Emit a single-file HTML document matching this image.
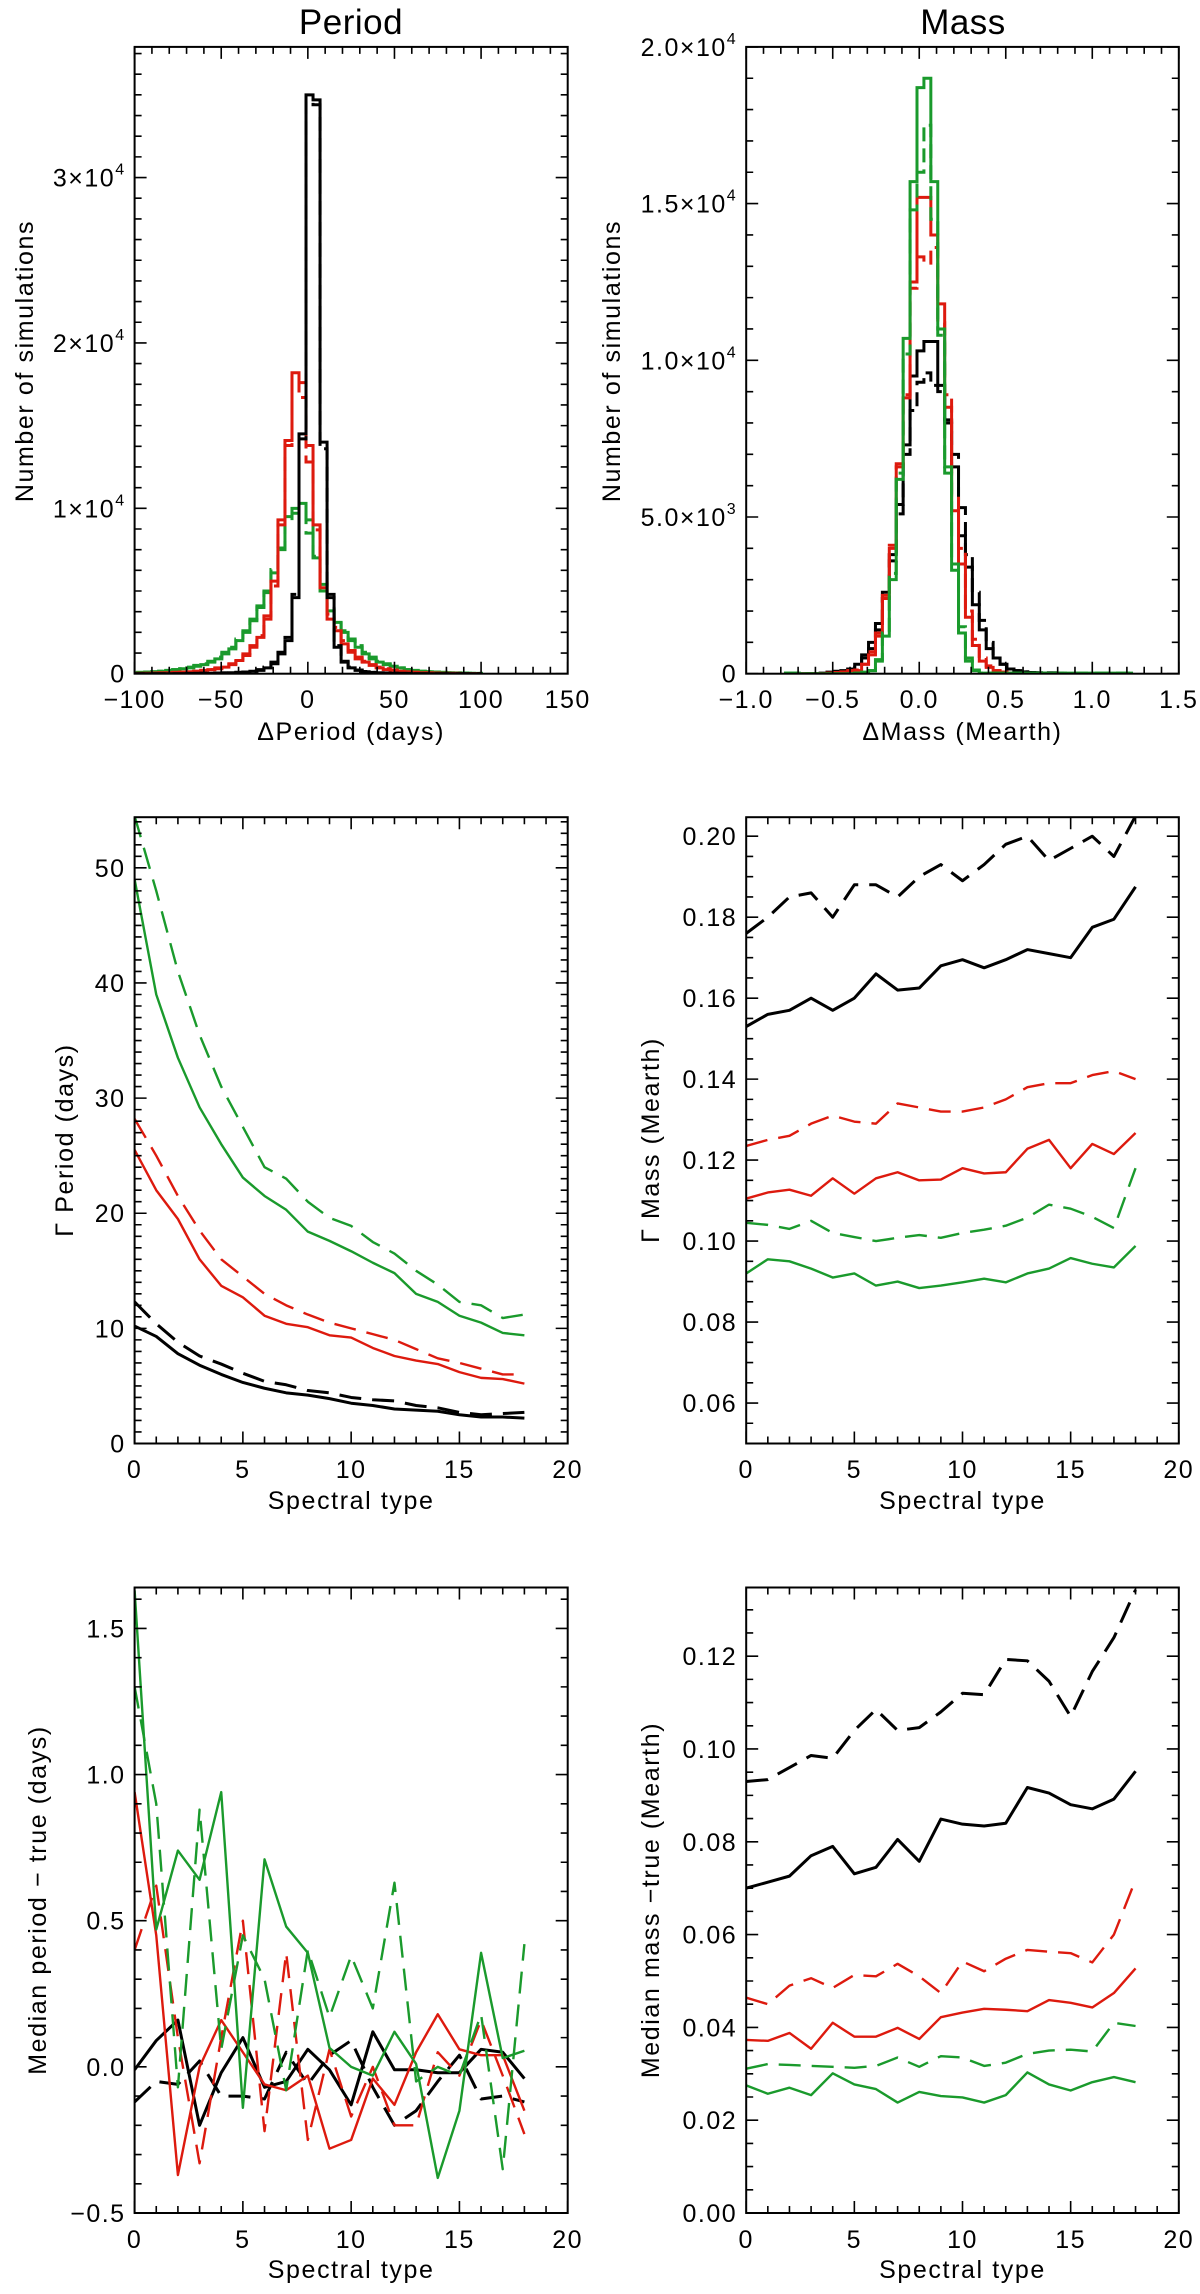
<!DOCTYPE html>
<html><head><meta charset="utf-8"><title>Period and Mass simulation results</title>
<style>
html,body{margin:0;padding:0;background:#fff;}
svg{display:block;font-family:"Liberation Sans",Arial,sans-serif;}
</style></head>
<body>
<svg id="fig" width="1200" height="2294" viewBox="0 0 1200 2294" xmlns="http://www.w3.org/2000/svg"></svg>
<script>
// ---------- DATA ----------
const periodBinStart = -102.3;
const periodBinWidth = 4.05;
const periodBlack = [0,0,0,0,0,0,0,0,0.02,0.02,0.03,0.03,0.04,0.05,0.06,0.08,0.1,0.15,0.2,0.35,0.6,1.2,2.0,4.6,14.5,35.0,34.7,14.0,4.6,1.6,0.7,0.35,0.2,0.12,0.08,0.05,0.04,0.03,0.02,0.02,0,0,0,0,0,0,0,0,0,0];
const periodBlackDash = [0,0,0,0,0,0,0,0,0.02,0.02,0.03,0.03,0.04,0.05,0.06,0.08,0.1,0.15,0.25,0.4,0.7,1.3,2.2,4.8,14.2,34.6,34.4,13.6,4.8,1.7,0.75,0.4,0.22,0.13,0.08,0.05,0.04,0.03,0.02,0.02,0,0,0,0,0,0,0,0,0,0];
const periodRed = [0,0.02,0.03,0.04,0.05,0.06,0.08,0.1,0.12,0.15,0.2,0.25,0.3,0.4,0.55,0.8,1.1,1.6,2.2,3.3,5.6,9.3,14.1,18.2,17.6,13.8,9.0,5.2,3.3,2.6,1.8,1.3,0.9,0.7,0.5,0.35,0.25,0.2,0.15,0.1,0.08,0.06,0.05,0.04,0.03,0.02,0.02,0,0,0];
const periodRedDash = [0,0.02,0.03,0.04,0.05,0.06,0.08,0.1,0.12,0.15,0.2,0.25,0.35,0.45,0.6,0.9,1.2,1.7,2.3,3.5,5.3,9.0,13.8,17.8,16.7,12.8,8.7,5.5,3.6,2.8,2.0,1.4,1.0,0.75,0.55,0.4,0.3,0.22,0.16,0.12,0.09,0.06,0.05,0.04,0.03,0.02,0.02,0,0,0];
const periodGreen = [0.05,0.08,0.1,0.12,0.15,0.2,0.25,0.3,0.35,0.45,0.55,0.7,0.9,1.2,1.5,2.0,2.5,3.2,4.0,4.9,6.1,7.6,9.5,10.0,10.3,9.3,7.0,5.0,3.8,3.1,2.5,2.0,1.6,1.2,0.9,0.7,0.55,0.45,0.35,0.25,0.2,0.15,0.12,0.1,0.08,0.06,0.05,0.04,0.03,0.02];
const periodGreenDash = [0.05,0.08,0.1,0.12,0.15,0.2,0.25,0.3,0.4,0.5,0.6,0.75,1.0,1.3,1.6,2.1,2.6,3.3,4.1,5.0,6.3,7.5,9.2,9.7,9.8,8.5,7.1,5.4,4.0,3.2,2.6,2.1,1.7,1.3,1.0,0.75,0.6,0.45,0.35,0.25,0.2,0.15,0.12,0.1,0.08,0.06,0.05,0.04,0.03,0.02];

const massBinStart = -0.773;
const massBinWidth = 0.04;
const massBlack = [0,0,0,0,0,0.02,0.05,0.08,0.1,0.15,0.3,0.6,1.0,1.6,2.6,3.8,5.4,7.3,9.5,10.3,10.6,10.6,9.2,8.1,6.6,4.4,3.4,2.2,1.4,0.8,0.5,0.3,0.15,0.1,0.06,0.04,0.03,0.02,0.02,0.02,0,0,0,0,0,0,0,0,0,0];
const massBlackDash = [0,0,0,0,0,0.02,0.04,0.06,0.1,0.15,0.25,0.5,0.8,1.4,2.4,3.6,5.1,7.0,8.4,9.3,9.6,9.2,9.0,8.0,7.0,5.3,3.8,2.6,1.7,1.0,0.5,0.3,0.15,0.1,0.06,0.04,0.03,0.02,0.03,0.02,0,0,0,0,0,0,0,0,0,0];
const massRed = [0,0,0,0,0,0,0.02,0.04,0.06,0.1,0.1,0.3,0.6,1.2,2.4,4.0,6.7,8.8,12.5,15.2,15.2,14.0,11.8,8.5,5.2,3.5,1.8,0.9,0.4,0.2,0.1,0.05,0.02,0,0,0,0,0,0,0,0,0,0,0,0,0,0,0,0,0];
const massRedDash = [0,0,0,0,0,0,0.02,0.04,0.06,0.1,0.12,0.3,0.7,1.3,2.5,4.1,6.6,8.9,12.3,13.3,13.1,13.6,11.2,8.9,5.6,4.0,2.0,1.1,0.5,0.25,0.1,0.05,0.02,0,0,0,0,0,0,0,0,0,0,0,0,0,0,0,0,0];
const massGreen = [0.02,0.02,0,0,0,0,0,0,0,0,0.02,0.05,0.1,0.4,1.2,3.0,6.2,10.7,15.7,18.7,19.0,15.7,11.0,6.4,3.3,1.3,0.4,0.1,0.02,0.02,0.02,0.02,0.02,0.02,0.02,0.02,0.02,0.02,0.02,0.02,0.02,0.02,0.02,0.02,0.02,0.02,0.02,0.02,0.02,0.02];
const massGreenDash = [0.02,0.02,0,0,0,0,0,0,0,0,0.02,0.05,0.1,0.45,1.3,3.2,6.4,10.2,14.8,16.0,17.5,14.5,10.8,6.6,3.5,1.5,0.5,0.12,0.02,0.02,0.02,0.02,0.02,0.02,0.02,0.02,0.02,0.02,0.02,0.02,0.02,0.02,0.02,0.02,0.02,0.02,0.02,0.02,0.02,0.02];

const spectralTypes = [0,1,2,3,4,5,6,7,8,9,10,11,12,13,14,15,16,17,18];

const gPerGreen = [49,39,33.5,29.2,26,23.1,21.5,20.3,18.4,17.6,16.7,15.7,14.8,13,12.3,11.1,10.5,9.6,9.4];
const gPerGreenDash = [54.5,48,41,35.5,31,27.5,24,23,21,19.6,18.9,17.5,16.5,15,13.8,12.3,12,10.9,11.2];
const gPerRed = [25.5,22,19.5,16,13.7,12.7,11.1,10.4,10.1,9.4,9.2,8.3,7.6,7.2,6.9,6.2,5.7,5.6,5.2];
const gPerRedDash = [28.2,25,21.5,18.5,16,14.5,13,12,11.2,10.5,10,9.5,9,8.2,7.4,7,6.5,6,6];
const gPerBlack = [10.2,9.3,7.8,6.8,6,5.3,4.8,4.4,4.2,3.9,3.5,3.3,3.0,2.9,2.8,2.5,2.3,2.3,2.2];
const gPerBlackDash = [12.3,10.4,8.8,7.6,6.9,6.1,5.4,5.1,4.6,4.4,4.0,3.8,3.7,3.3,3.1,2.7,2.5,2.6,2.7];

const gMassBlackDash = [0.176,0.180,0.185,0.186,0.180,0.188,0.188,0.185,0.190,0.193,0.189,0.193,0.198,0.200,0.194,0.197,0.200,0.195,0.205];
const gMassBlack = [0.153,0.156,0.157,0.160,0.157,0.160,0.166,0.162,0.1625,0.168,0.1695,0.1675,0.1695,0.172,0.171,0.170,0.1775,0.1795,0.1875];
const gMassRedDash = [0.1235,0.125,0.126,0.129,0.131,0.1295,0.129,0.134,0.133,0.132,0.132,0.133,0.135,0.138,0.139,0.139,0.141,0.142,0.140];
const gMassRed = [0.1105,0.112,0.1127,0.1112,0.1155,0.1117,0.1155,0.117,0.115,0.1152,0.118,0.1167,0.117,0.1228,0.125,0.118,0.124,0.1215,0.1267];
const gMassGreenDash = [0.1045,0.104,0.103,0.105,0.102,0.101,0.100,0.1008,0.1015,0.1008,0.102,0.1028,0.1038,0.1058,0.109,0.108,0.106,0.1032,0.118];
const gMassGreen = [0.092,0.0955,0.095,0.0932,0.091,0.092,0.089,0.090,0.0884,0.089,0.0898,0.0907,0.0898,0.092,0.0932,0.0958,0.0944,0.0935,0.0988];

const medPerGreen = [1.63,0.47,0.74,0.64,0.94,-0.14,0.71,0.48,0.39,0.065,0,-0.03,0.12,0.01,-0.38,-0.15,0.39,0.03,0.055];
const medPerGreenDash = [1.3,0.9,-0.07,0.88,0.06,0.45,0.3,-0.08,0.4,0.17,0.38,0.2,0.63,-0.05,0.0,-0.03,0.18,-0.35,0.42];
const medPerRed = [0.94,0.45,-0.37,0.0,0.16,0.05,-0.06,-0.08,-0.03,-0.28,-0.25,-0.04,-0.13,0.05,0.18,0.06,0.04,0.04,-0.15];
const medPerRedDash = [0.4,0.62,0.1,-0.33,0.1,0.5,-0.22,0.39,-0.25,0.06,-0.17,0.0,-0.2,-0.2,0.05,-0.03,0.16,-0.03,-0.23];
const medPerBlack = [-0.01,0.09,0.16,-0.2,-0.02,0.1,-0.07,-0.05,0.06,-0.01,-0.13,0.12,-0.01,-0.01,-0.02,-0.02,0.06,0.05,-0.04];
const medPerBlackDash = [-0.12,-0.05,-0.06,0.02,-0.1,-0.1,-0.11,0.05,-0.06,0.04,0.09,-0.07,-0.2,-0.15,-0.05,0.04,-0.11,-0.1,-0.12];

const medMassBlackDash = [0.093,0.0934,0.096,0.0986,0.098,0.104,0.1085,0.104,0.1046,0.108,0.112,0.1117,0.1193,0.119,0.1146,0.107,0.1167,0.124,0.1343];
const medMassBlack = [0.070,0.0713,0.0726,0.077,0.079,0.0731,0.0745,0.0805,0.0758,0.0849,0.0838,0.0834,0.084,0.0917,0.0905,0.088,0.0871,0.0892,0.0952];
const medMassRedDash = [0.0464,0.045,0.049,0.0506,0.0485,0.0513,0.051,0.0537,0.051,0.0474,0.0542,0.0521,0.0548,0.0567,0.0563,0.056,0.054,0.060,0.0718];
const medMassRed = [0.0373,0.0371,0.0388,0.0354,0.041,0.038,0.038,0.0399,0.0375,0.0422,0.0432,0.044,0.0438,0.0435,0.0459,0.0453,0.0443,0.0474,0.0527];
const medMassGreenDash = [0.0311,0.0321,0.0319,0.0317,0.0315,0.0313,0.0317,0.0335,0.0315,0.0338,0.0335,0.0317,0.0324,0.0343,0.035,0.0352,0.0348,0.041,0.0403];
const medMassGreen = [0.0275,0.0257,0.027,0.0254,0.0301,0.0277,0.0267,0.0238,0.0261,0.0252,0.0249,0.0238,0.0254,0.0303,0.0277,0.0264,0.0282,0.0293,0.0282];

const periodYTickVals = [0,10,20,30];
const periodYTickLabels = ["0","1×10<tspan dy='-12' font-size='16'>4</tspan>","2×10<tspan dy='-12' font-size='16'>4</tspan>","3×10<tspan dy='-12' font-size='16'>4</tspan>"];
const periodXTickVals = [-100,-50,0,50,100,150];
const periodXTickLabels = ["−100","−50","0","50","100","150"];
const massYTickVals = [0,5,10,15,20];
const massYTickLabels = ["0","5.0×10<tspan dy='-12' font-size='16'>3</tspan>","1.0×10<tspan dy='-12' font-size='16'>4</tspan>","1.5×10<tspan dy='-12' font-size='16'>4</tspan>","2.0×10<tspan dy='-12' font-size='16'>4</tspan>"];
const massXTickVals = [-1,-0.5,0,0.5,1,1.5];
const massXTickLabels = ["−1.0","−0.5","0.0","0.5","1.0","1.5"];
const specXTickVals = [0,5,10,15,20];
const specXTickLabels = ["0","5","10","15","20"];
const gPerYTickVals = [0,10,20,30,40,50];
const gPerYTickLabels = ["0","10","20","30","40","50"];
const gMassYTickVals = [0.06,0.08,0.10,0.12,0.14,0.16,0.18,0.20];
const gMassYTickLabels = ["0.06","0.08","0.10","0.12","0.14","0.16","0.18","0.20"];
const medPerYTickVals = [-0.5,0,0.5,1.0,1.5];
const medPerYTickLabels = ["−0.5","0.0","0.5","1.0","1.5"];
const medMassYTickVals = [0,0.02,0.04,0.06,0.08,0.10,0.12];
const medMassYTickLabels = ["0.00","0.02","0.04","0.06","0.08","0.10","0.12"];

// ---------- RENDER ----------
const NS = "http://www.w3.org/2000/svg";
const svg = document.getElementById('fig');
const BLACK = "#000", RED = "#dd1a0e", GREEN = "#1a9a2c";
const DASH = "22,11";

function mk(tag, parent){ const e = document.createElementNS(NS, tag); parent.appendChild(e); return e; }

function makePanel(p){
  const g = mk('g', svg);
  
  
  p.sx = v => p.L + (v - p.xmin) / (p.xmax - p.xmin) * (p.R - p.L);
  p.sy = v => p.B - (v - p.ymin) / (p.ymax - p.ymin) * (p.B - p.T);
  const cp = mk('clipPath', g);
  cp.setAttribute('id', 'clip-' + p.name);
  const cr = mk('rect', cp);
  cr.setAttribute('x', p.L); cr.setAttribute('y', p.T);
  cr.setAttribute('width', p.R - p.L); cr.setAttribute('height', p.B - p.T);
  p.g = g;
  p.data = mk('g', g);
  
  
  p.data.setAttribute('clip-path', 'url(#clip-' + p.name + ')');
  return p;
}

function drawAxes(p){
  const g = p.g;
  const frame = mk('rect', g);
  
  
  frame.setAttribute('x', p.L); frame.setAttribute('y', p.T);
  frame.setAttribute('width', p.R - p.L); frame.setAttribute('height', p.B - p.T);
  frame.setAttribute('fill', 'none'); frame.setAttribute('stroke', '#000'); frame.setAttribute('stroke-width', '2');
  let d = "";
  const eps = 1e-9;
  for (let k = 0; ; k++){
    const v = p.xmin + k * p.xminor;
    if (v > p.xmax + eps) break;
    const r = (v - p.xmin) / p.xmajor;
    const isMaj = Math.abs(r - Math.round(r)) < 1e-6;
    const len = isMaj ? 12 : 7;
    const x = p.sx(v);
    d += `M${x} ${p.B}V${p.B - len}M${x} ${p.T}V${p.T + len}`;
  }
  for (let k = 0; ; k++){
    const v = p.ymin0 + k * p.yminor;
    if (v > p.ymax + eps) break;
    if (v < p.ymin - eps) continue;
    const r = (v - p.ymin0) / p.ymajor;
    const isMaj = Math.abs(r - Math.round(r)) < 1e-6;
    const len = isMaj ? 12 : 7;
    const y = p.sy(v);
    d += `M${p.L} ${y}H${p.L + len}M${p.R} ${y}H${p.R - len}`;
  }
  const ticks = mk('path', g);
  
  
  ticks.setAttribute('d', d); ticks.setAttribute('stroke', '#000'); ticks.setAttribute('stroke-width', '1.6'); ticks.setAttribute('fill', 'none');

  p.xTickVals.forEach((v, i) => {
    const t = mk('text', g);
    
    
    t.setAttribute('x', p.sx(v)); t.setAttribute('y', p.xLabelY);
    t.setAttribute('text-anchor', 'middle'); t.setAttribute('font-size', '25'); t.setAttribute('letter-spacing', '1.5');
    t.textContent = p.xTickLabels[i];
  });
  p.yTickVals.forEach((v, i) => {
    const t = mk('text', g);
    
    
    t.setAttribute('x', p.L - 9); t.setAttribute('y', p.sy(v) + 9);
    t.setAttribute('text-anchor', 'end'); t.setAttribute('font-size', '25'); t.setAttribute('letter-spacing', '1.5');
    t.innerHTML = p.yTickLabels[i];
  });
  const xt = mk('text', g);
  
  
  xt.setAttribute('x', (p.L + p.R) / 2); xt.setAttribute('y', p.xTitleY);
  xt.setAttribute('text-anchor', 'middle'); xt.setAttribute('font-size', '25'); xt.setAttribute('letter-spacing', '1.6');
  xt.textContent = p.xTitle;
  const yt = mk('text', g);
  
  
  yt.setAttribute('x', 0); yt.setAttribute('y', 0);
  yt.setAttribute('transform', `translate(${p.yTitleX},${p.yTitleY}) rotate(-90)`);
  yt.setAttribute('text-anchor', 'middle'); yt.setAttribute('dominant-baseline', 'central'); yt.setAttribute('font-size', '25'); yt.setAttribute('letter-spacing', '1.6');
  yt.textContent = p.yTitle;
}

function drawHist(p, start, width, vals, color, dashed, name){
  let d = `M${p.sx(start)} ${p.sy(0)}`;
  for (let i = 0; i < vals.length; i++){
    const y = p.sy(vals[i]);
    d += `L${p.sx(start + i * width)} ${y}L${p.sx(start + (i + 1) * width)} ${y}`;
  }
  d += `L${p.sx(start + vals.length * width)} ${p.sy(0)}`;
  const path = mk('path', p.data);
  
  
  path.setAttribute('d', d); path.setAttribute('fill', 'none'); path.setAttribute('stroke', color);
  path.setAttribute('stroke-width', '3');
  if (dashed) path.setAttribute('stroke-dasharray', '14,7');
}

function drawLine(p, xs, ys, color, dashed, w, name){
  const d = ys.map((v, i) => (i ? 'L' : 'M') + p.sx(xs[i]) + ' ' + p.sy(v)).join('');
  const path = mk('path', p.data);
  
  
  path.setAttribute('d', d); path.setAttribute('fill', 'none'); path.setAttribute('stroke', color);
  path.setAttribute('stroke-width', w); path.setAttribute('stroke-linejoin', 'round');
  if (dashed) path.setAttribute('stroke-dasharray', DASH);
}

[["Period", 351], ["Mass", 963]].forEach(([s, x]) => {
  const t = mk('text', svg);
  
  
  t.setAttribute('x', x); t.setAttribute('y', 34);
  t.setAttribute('text-anchor', 'middle'); t.setAttribute('font-size', '35'); t.setAttribute('letter-spacing', '0.5');
  t.textContent = s;
});

const LL = 134.6, LR = 567.7, RL = 746.2, RR = 1178.8;
const T1 = 46.9, B1 = 673.7, T2 = 817.2, B2 = 1443.5, T3 = 1587.5, B3 = 2213;

const p1 = makePanel({name:'period-histogram', L:LL, R:LR, T:T1, B:B1, xmin:-100, xmax:150, ymin:0, ymin0:0, ymax:37.9,
  xmajor:50, xminor:10, ymajor:10, yminor:1.25, xTickVals:periodXTickVals, xTickLabels:periodXTickLabels,
  yTickVals:periodYTickVals, yTickLabels:periodYTickLabels, xLabelY:708, xTitleY:740, xTitle:'ΔPeriod (days)',
  yTitle:'Number of simulations', yTitleX:25, yTitleY:361});
drawHist(p1, periodBinStart, periodBinWidth, periodGreenDash, GREEN, true, 'hist-green-dashed');
drawHist(p1, periodBinStart, periodBinWidth, periodGreen, GREEN, false, 'hist-green');
drawHist(p1, periodBinStart, periodBinWidth, periodRedDash, RED, true, 'hist-red-dashed');
drawHist(p1, periodBinStart, periodBinWidth, periodRed, RED, false, 'hist-red');
drawHist(p1, periodBinStart, periodBinWidth, periodBlackDash, BLACK, true, 'hist-black-dashed');
drawHist(p1, periodBinStart, periodBinWidth, periodBlack, BLACK, false, 'hist-black');
drawAxes(p1);

const p2 = makePanel({name:'mass-histogram', L:RL, R:RR, T:T1, B:B1, xmin:-1, xmax:1.5, ymin:0, ymin0:0, ymax:20,
  xmajor:0.5, xminor:0.1, ymajor:5, yminor:1, xTickVals:massXTickVals, xTickLabels:massXTickLabels,
  yTickVals:massYTickVals, yTickLabels:massYTickLabels, xLabelY:708, xTitleY:740, xTitle:'ΔMass (Mearth)',
  yTitle:'Number of simulations', yTitleX:612, yTitleY:361});
drawHist(p2, massBinStart, massBinWidth, massBlackDash, BLACK, true, 'hist-black-dashed');
drawHist(p2, massBinStart, massBinWidth, massBlack, BLACK, false, 'hist-black');
drawHist(p2, massBinStart, massBinWidth, massRedDash, RED, true, 'hist-red-dashed');
drawHist(p2, massBinStart, massBinWidth, massRed, RED, false, 'hist-red');
drawHist(p2, massBinStart, massBinWidth, massGreenDash, GREEN, true, 'hist-green-dashed');
drawHist(p2, massBinStart, massBinWidth, massGreen, GREEN, false, 'hist-green');
drawAxes(p2);

const p3 = makePanel({name:'gamma-period-chart', L:LL, R:LR, T:T2, B:B2, xmin:0, xmax:20, ymin:0, ymin0:0, ymax:54.4,
  xmajor:5, xminor:1, ymajor:10, yminor:1, xTickVals:specXTickVals, xTickLabels:specXTickLabels,
  yTickVals:gPerYTickVals, yTickLabels:gPerYTickLabels, xLabelY:1478, xTitleY:1509, xTitle:'Spectral type',
  yTitle:'Γ Period (days)', yTitleX:65, yTitleY:1140});
drawLine(p3, spectralTypes, gPerGreenDash, GREEN, true, 2.4, 'line-green-dashed');
drawLine(p3, spectralTypes, gPerGreen, GREEN, false, 2.4, 'line-green');
drawLine(p3, spectralTypes, gPerRedDash, RED, true, 2.4, 'line-red-dashed');
drawLine(p3, spectralTypes, gPerRed, RED, false, 2.4, 'line-red');
drawLine(p3, spectralTypes, gPerBlackDash, BLACK, true, 3, 'line-black-dashed');
drawLine(p3, spectralTypes, gPerBlack, BLACK, false, 3, 'line-black');
drawAxes(p3);

const p4 = makePanel({name:'gamma-mass-chart', L:RL, R:RR, T:T2, B:B2, xmin:0, xmax:20, ymin:0.050, ymin0:0.04, ymax:0.2047,
  xmajor:5, xminor:1, ymajor:0.02, yminor:0.005, xTickVals:specXTickVals, xTickLabels:specXTickLabels,
  yTickVals:gMassYTickVals, yTickLabels:gMassYTickLabels, xLabelY:1478, xTitleY:1509, xTitle:'Spectral type',
  yTitle:'Γ Mass (Mearth)', yTitleX:651, yTitleY:1140});
drawLine(p4, spectralTypes, gMassBlackDash, BLACK, true, 3, 'line-black-dashed');
drawLine(p4, spectralTypes, gMassBlack, BLACK, false, 3, 'line-black');
drawLine(p4, spectralTypes, gMassRedDash, RED, true, 2.4, 'line-red-dashed');
drawLine(p4, spectralTypes, gMassRed, RED, false, 2.4, 'line-red');
drawLine(p4, spectralTypes, gMassGreenDash, GREEN, true, 2.4, 'line-green-dashed');
drawLine(p4, spectralTypes, gMassGreen, GREEN, false, 2.4, 'line-green');
drawAxes(p4);

const p5 = makePanel({name:'median-period-chart', L:LL, R:LR, T:T3, B:B3, xmin:0, xmax:20, ymin:-0.5, ymin0:-0.5, ymax:1.64,
  xmajor:5, xminor:1, ymajor:0.5, yminor:0.1, xTickVals:specXTickVals, xTickLabels:specXTickLabels,
  yTickVals:medPerYTickVals, yTickLabels:medPerYTickLabels, xLabelY:2248, xTitleY:2278, xTitle:'Spectral type',
  yTitle:'Median period − true (days)', yTitleX:38, yTitleY:1900});
drawLine(p5, spectralTypes, medPerBlackDash, BLACK, true, 3, 'line-black-dashed');
drawLine(p5, spectralTypes, medPerBlack, BLACK, false, 3, 'line-black');
drawLine(p5, spectralTypes, medPerRedDash, RED, true, 2.4, 'line-red-dashed');
drawLine(p5, spectralTypes, medPerRed, RED, false, 2.4, 'line-red');
drawLine(p5, spectralTypes, medPerGreenDash, GREEN, true, 2.4, 'line-green-dashed');
drawLine(p5, spectralTypes, medPerGreen, GREEN, false, 2.4, 'line-green');
drawAxes(p5);

const p6 = makePanel({name:'median-mass-chart', L:RL, R:RR, T:T3, B:B3, xmin:0, xmax:20, ymin:0, ymin0:0, ymax:0.1348,
  xmajor:5, xminor:1, ymajor:0.02, yminor:0.005, xTickVals:specXTickVals, xTickLabels:specXTickLabels,
  yTickVals:medMassYTickVals, yTickLabels:medMassYTickLabels, xLabelY:2248, xTitleY:2278, xTitle:'Spectral type',
  yTitle:'Median mass −true (Mearth)', yTitleX:651, yTitleY:1900});
drawLine(p6, spectralTypes, medMassBlackDash, BLACK, true, 3, 'line-black-dashed');
drawLine(p6, spectralTypes, medMassBlack, BLACK, false, 3, 'line-black');
drawLine(p6, spectralTypes, medMassRedDash, RED, true, 2.4, 'line-red-dashed');
drawLine(p6, spectralTypes, medMassRed, RED, false, 2.4, 'line-red');
drawLine(p6, spectralTypes, medMassGreenDash, GREEN, true, 2.4, 'line-green-dashed');
drawLine(p6, spectralTypes, medMassGreen, GREEN, false, 2.4, 'line-green');
drawAxes(p6);
</script>
</body></html>
